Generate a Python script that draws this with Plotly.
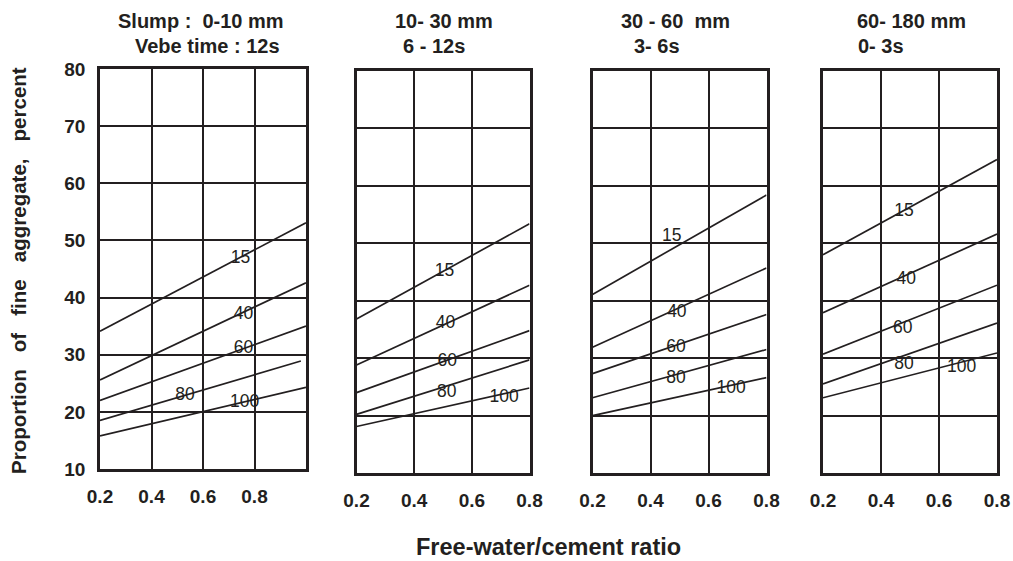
import plotly.graph_objects as go

# Free-water/cement ratio at the ends of each curve
wc_p1 = [0.2, 1.0]
wc_p2 = [0.2, 0.8]
wc_p3 = [0.2, 0.8]
wc_p4 = [0.2, 0.8]

# Percentage passing 600 um sieve (curve labels)
passing_600um = ["15", "40", "60", "80", "100"]

# Proportion of fine aggregate (%) at the curve ends, one pair per label
fines_p1 = [[34.1, 53.1], [25.6, 42.6], [22.0, 35.0], [18.5, 28.9], [15.8, 24.3]]
fines_p2 = [[36.8, 53.4], [28.8, 42.7], [24.0, 34.8], [20.2, 29.7], [18.1, 24.8]]
fines_p3 = [[41.1, 58.4], [31.9, 45.7], [27.3, 37.6], [23.1, 31.5], [20.0, 26.6]]
fines_p4 = [[48.0, 64.6], [37.9, 51.6], [30.7, 42.7], [25.5, 36.1], [23.1, 30.9]]

# Where each curve label sits (w/c ratio, percent)
label_x_p1 = [0.746, 0.757, 0.757, 0.530, 0.762]
label_y_p1 = [46.8, 37.0, 31.0, 22.8, 21.6]
label_x_p2 = [0.505, 0.509, 0.515, 0.513, 0.712]
label_y_p2 = [45.0, 36.0, 29.4, 24.0, 23.1]
label_x_p3 = [0.473, 0.491, 0.488, 0.488, 0.678]
label_y_p3 = [51.1, 38.0, 31.9, 26.4, 24.7]
label_x_p4 = [0.479, 0.487, 0.475, 0.479, 0.678]
label_y_p4 = [55.5, 43.6, 35.2, 28.9, 28.4]

# Panel headings: slump range and Vebe time
slump_text = ["Slump :\u00a0\u00a00-10 mm", "10- 30 mm", "30 - 60\u00a0\u00a0mm", "60- 180 mm"]
vebe_text = ["Vebe time : 12s", "6 - 12s", "3- 6s", "0- 3s"]

y_ticks = [10, 20, 30, 40, 50, 60, 70, 80]
x_ticks = [0.2, 0.4, 0.6, 0.8]

W, H = 1013, 561
INK = "#231f20"
FONT = "Liberation Sans"

panels = [
    dict(wc=wc_p1, fines=fines_p1, lx=label_x_p1, ly=label_y_p1, xr=[0.2, 1.0],
         px=(100, 306), py=(69, 469), head=(116, 133)),
    dict(wc=wc_p2, fines=fines_p2, lx=label_x_p2, ly=label_y_p2, xr=[0.2, 0.8],
         px=(356.5, 529.5), py=(71, 473), head=(393, 401)),
    dict(wc=wc_p3, fines=fines_p3, lx=label_x_p3, ly=label_y_p3, xr=[0.2, 0.8],
         px=(592.5, 766.5), py=(71, 473), head=(619, 632)),
    dict(wc=wc_p4, fines=fines_p4, lx=label_x_p4, ly=label_y_p4, xr=[0.2, 0.8],
         px=(823, 997), py=(71, 473), head=(855, 856)),
]

fig = go.Figure()
layout = dict(
    width=W, height=H,
    margin=dict(l=0, r=0, t=0, b=0, autoexpand=False),
    paper_bgcolor="white", plot_bgcolor="white",
    showlegend=False,
    font=dict(family=FONT, color=INK),
)
annotations = []

for i, p in enumerate(panels):
    n = i + 1
    xa = "x" if n == 1 else f"x{n}"
    ya = "y" if n == 1 else f"y{n}"
    for vals in p["fines"]:
        xs = list(p["wc"])
        if p is panels[0] and vals is fines_p1[3]:
            xs = [0.2, 0.98]
        fig.add_trace(go.Scatter(
            x=xs, y=vals, mode="lines", xaxis=xa, yaxis=ya,
            line=dict(color=INK, width=1.7), hoverinfo="skip"))
    fig.add_trace(go.Scatter(
        x=p["lx"], y=p["ly"], text=passing_600um, mode="text",
        xaxis=xa, yaxis=ya, textposition="middle center",
        textfont=dict(family=FONT, size=17.5, color=INK), hoverinfo="skip"))

    axis_common = dict(
        showline=True, mirror=True, linecolor=INK, linewidth=2.5,
        showgrid=True, gridcolor=INK, gridwidth=2.2, zeroline=False,
        ticks="outside", tickcolor="rgba(0,0,0,0)",
        tickfont=dict(family=FONT, size=19, color=INK, weight="bold"),
        fixedrange=True, automargin=False,
    )
    layout[f"xaxis{'' if n == 1 else n}"] = dict(
        axis_common, domain=[p["px"][0] / W, p["px"][1] / W],
        range=p["xr"], tickvals=x_ticks, ticktext=[f"{v:.1f}" for v in x_ticks],
        anchor=ya, ticklen=8,
    )
    layout[f"yaxis{'' if n == 1 else n}"] = dict(
        axis_common, domain=[1 - p["py"][1] / H, 1 - p["py"][0] / H],
        range=[10, 80], tickvals=y_ticks, showticklabels=(n == 1),
        anchor=xa, ticklen=8,
    )

    annotations.append(dict(
        text=slump_text[i], x=p["head"][0] / W, y=1 - 21 / H,
        xref="paper", yref="paper", xanchor="left", yanchor="middle",
        showarrow=False, font=dict(family=FONT, size=20, color=INK, weight="bold")))
    annotations.append(dict(
        text=vebe_text[i], x=p["head"][1] / W, y=1 - 46 / H,
        xref="paper", yref="paper", xanchor="left", yanchor="middle",
        showarrow=False, font=dict(family=FONT, size=20, color=INK, weight="bold")))

gap = "\u00a0\u00a0\u00a0"
annotations.append(dict(
    text=gap.join(["Proportion", "of", "fine", "aggregate,", "percent"]),
    x=18 / W, y=1 - 271 / H, xref="paper", yref="paper",
    xanchor="center", yanchor="middle", textangle=-90, showarrow=False,
    font=dict(family=FONT, size=20.5, color=INK, weight="bold")))
annotations.append(dict(
    text="Free-water/cement ratio",
    x=548 / W, y=1 - 547 / H, xref="paper", yref="paper",
    xanchor="center", yanchor="middle", showarrow=False,
    font=dict(family=FONT, size=23.5, color=INK, weight="bold")))

layout["annotations"] = annotations
fig.update_layout(**layout)
fig.write_html("out.html", config={"displayModeBar": False})
